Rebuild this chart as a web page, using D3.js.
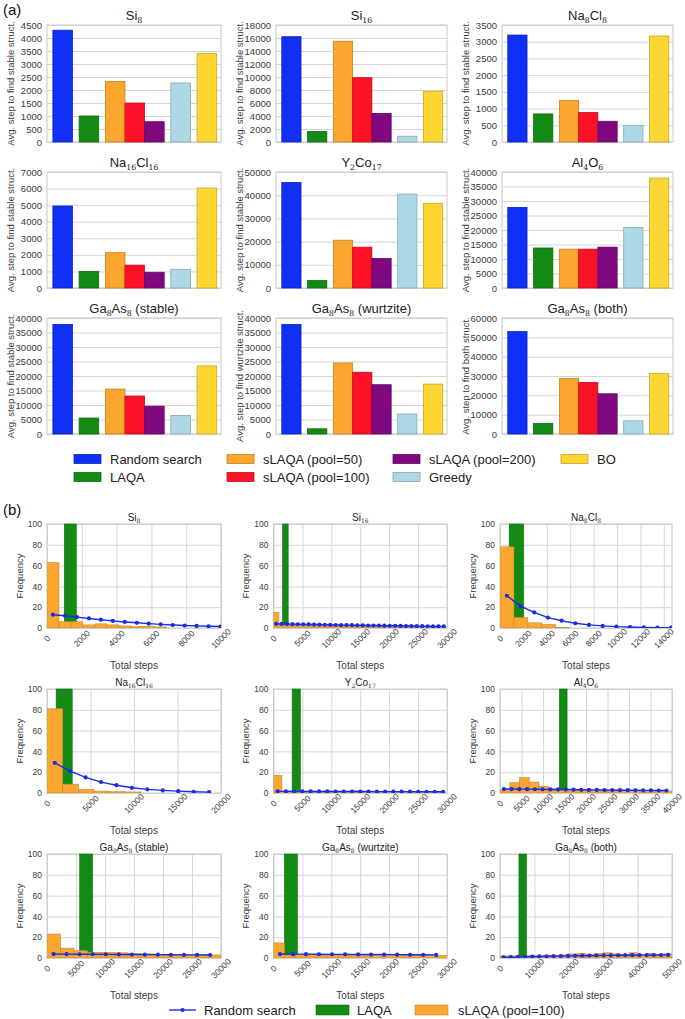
<!DOCTYPE html>
<html><head><meta charset="utf-8">
<script src="https://cdn.jsdelivr.net/npm/d3@7"></script>
<style>body{margin:0;background:#fff} text{font-family:"Liberation Sans",Arial,sans-serif}</style>
</head><body><svg id="c" width="685" height="1019"></svg>
<script>
// ---------------- (a) data ----------------
const methods = ["Random search","LAQA","sLAQA (pool=50)","sLAQA (pool=100)","sLAQA (pool=200)","Greedy","BO"];
const methodGroup = [0,1,2,2,2,3,4];
const methodColors = ["#1030f5","#138a13","#fba62f","#fc1226","#80087f","#add8e6","#fed631"];
const titlesA = ["Si_8","Si_16","Na_8Cl_8","Na_16Cl_16","Y_2Co_17","Al_4O_6","Ga_8As_8 (stable)","Ga_8As_8 (wurtzite)","Ga_8As_8 (both)"];
const avgSi8 = [4300,1000,2330,1500,780,2270,3400];
const avgSi16 = [16200,1600,15500,9900,4400,900,7800];
const avgNa8Cl8 = [3200,840,1240,880,620,500,3170];
const avgNa16Cl16 = [4950,1000,2130,1380,950,1130,6030];
const avgY2Co17 = [45500,3200,20600,17600,12700,40500,36400];
const avgAl4O6 = [27800,13800,13400,13400,14100,20900,37900];
const avgGaStable = [37800,5500,15500,13100,9600,6400,23500];
const avgGaWurtz = [37800,1800,24500,21300,17000,6900,17200];
const avgGaBoth = [53000,5500,28800,26700,20800,6800,31400];
const yMaxA = [4500,18000,3500,7000,50000,40000,40000,40000,60000];
const yStepA = [500,2000,500,1000,10000,5000,5000,5000,10000];
const yLabelA = ["Avg. step to find stable struct.","Avg. step to find stable struct.","Avg. step to find stable struct.",
  "Avg. step to find stable struct.","Avg. step to find stable struct.","Avg. step to find stable struct.",
  "Avg. step to find stable struct.","Avg. step to find wurtzite struct.","Avg. step to find both struct."];

// ---------------- (b) data ----------------
const titlesB = titlesA;
const xMaxB = [10000,30000,14700,20000,30000,40000,30000,30000,50000];
const xStepB = [2000,5000,2000,5000,5000,5000,5000,5000,10000];
const orangeBinB = [688,935,1190,1800,1450,2265,2330,1875,2500];
const randomBinB = [688,935,1170,1775,1430,1800,2250,2250,2080];
const oSi8 = [63,6,6,3,4,3,2,1.5,1.5,1];
const oSi16 = [15,3,3,3,3,3,3,3,2.5,3,2.5,3,2.5,2.5,2.5,2,2.5,2,2,2,2,2,1.5,2,1.5,1.5,1.5,1,1,1,1];
const oNa8Cl8 = [78,10,5,3.5,0.5];
const oNa16Cl16 = [81,8.5,3.5,1.8,1.2,1];
const oY2Co17 = [17,2,2,1.5,2,1.5,2,1.5,1.5,2,1.5,1.5,1.5,1.5,1,1.5,1.5,1,1,1.5];
const oAl4O6 = [3,10,15,10.5,6.5,4,3,3,3,2.5,3,2.5,2.5,2.5,2,2.5,2,2];
const oGaStable = [23,9.5,7,5.5,5.5,5,4.5,4,3.5,3.5,3,3,3];
const oGaWurtz = [14.5,3,3,3,3,3,3,3,3,3,2.5,2.5,2.5,2.5,2.5,2.5];
const oGaBoth = [2,2,1,2,2,2.5,2.5,3,4,4.5,3.5,4.5,5,4,3.5,5,3.5,4.5,3,4];
const greenB = [[994,1683],[1563,2538],[784,2017],[1050,2900],[3220,4650],[13800,15600],[5625,7875],[1875,4125],[5500,7700]];
const rSi8 = [12.8,11.8,10.5,9.2,8.0,6.8,5.8,5.0,4.2,3.5,2.9,2.4,2.0,1.7,1.4];
const rSi16 = [4.0,3.9,3.8,3.7,3.6,3.5,3.4,3.3,3.2,3.1,3.0,2.9,2.8,2.8,2.7,2.6,2.5,2.4,2.4,2.3,2.2,2.1,2.1,2.0,1.9,1.9,1.8,1.8,1.7,1.6,1.6,1.5];
const rNa8Cl8 = [31,21,15,10,7,4.5,3,2,1.3,0.9,0.6,0.4,0.3];
const rNa16Cl16 = [29,21,15,10.5,7.5,5,3.5,2.5,1.8,1.2,0.8];
const rY2Co17 = [1.6,1.6,1.5,1.5,1.5,1.5,1.5,1.4,1.4,1.4,1.4,1.4,1.3,1.3,1.3,1.3,1.3,1.2,1.2,1.2,1.2];
const rAl4O6 = [3.8,3.8,3.7,3.7,3.6,3.5,3.4,3.4,3.3,3.2,3.1,3.0,3.0,2.9,2.8,2.7,2.7,2.6,2.5,2.5,2.4,2.4];
const rGaStable = [3.8,3.7,3.6,3.6,3.5,3.4,3.3,3.2,3.2,3.1,3.0,3.0,2.9];
const rGaWurtz = [3.8,3.7,3.7,3.6,3.5,3.5,3.4,3.3,3.3,3.2,3.1,3.1,3.0];
const rGaBoth = [0.6,0.8,1.0,1.2,1.4,1.5,1.7,1.8,1.9,2.0,2.1,2.2,2.3,2.4,2.5,2.5,2.6,2.7,2.7,2.8,2.8,2.9,2.9,3.0];
const legendB = ["Random search","LAQA","sLAQA (pool=100)"];

// ---------------- assemble ----------------
const avgA = [avgSi8,avgSi16,avgNa8Cl8,avgNa16Cl16,avgY2Co17,avgAl4O6,avgGaStable,avgGaWurtz,avgGaBoth];
const orangeB = [oSi8,oSi16,oNa8Cl8,oNa16Cl16,oY2Co17,oAl4O6,oGaStable,oGaWurtz,oGaBoth];
const randomB = [rSi8,rSi16,rNa8Cl8,rNa16Cl16,rY2Co17,rAl4O6,rGaStable,rGaWurtz,rGaBoth];

const svg = d3.select("#c");
svg.append("rect").attr("width",685).attr("height",1019).attr("fill","#fff");
const TXT = "#3a3a3a", GRID = "#d6d6d6", EDGE = "#c8c8c8";

function formula(g, str, x, y, size, anchor){
  const t = g.append("text").attr("x",x).attr("y",y).attr("text-anchor",anchor||"middle")
    .attr("font-size",size).attr("fill","#222");
  const parts = str.split(/_(\d+)/);
  let shift = 0;
  parts.forEach((p,i)=>{
    if(!p) return;
    if(i%2===1){
      const d = size*0.22;
      t.append("tspan").attr("font-family","DejaVu Serif, serif").attr("font-size",size*0.6).attr("dy",d-shift).text(p);
      shift = d;
    } else {
      t.append("tspan").attr("dy",-shift).text(p);
      shift = 0;
    }
  });
  return t;
}

svg.append("text").attr("x",3).attr("y",15).attr("font-size",15).attr("fill","#111").text("(a)");
svg.append("text").attr("x",3).attr("y",515).attr("font-size",15).attr("fill","#111").text("(b)");

// ---------------- panel (a) ----------------
const aCols = [[47,221],[276,447],[502,673]];
const aRows = [[25,142],[172,288],[318,434]];
const gap = 0.34;
avgA.forEach((vals,k)=>{
  const r = Math.floor(k/3), c = k%3;
  const [L,R] = aCols[c], [T,B] = aRows[r];
  const g = svg.append("g");
  const x = d3.scaleLinear().domain([-0.3, 6+gap*4+1+0.22]).range([L,R]);
  const y = d3.scaleLinear().domain([0,yMaxA[k]]).range([B,T]);
  const ticks = d3.range(0, yMaxA[k]+1, yStepA[k]);
  const ax = g.append("g").attr("transform",`translate(${L},0)`)
    .call(d3.axisLeft(y).tickValues(ticks).tickSize(-(R-L)).tickPadding(5).tickFormat(d3.format("d")));
  ax.select(".domain").remove();
  ax.selectAll(".tick line").attr("stroke",GRID).attr("stroke-width",1);
  ax.selectAll(".tick text").attr("font-size",9.5).attr("fill",TXT).attr("font-family","Liberation Sans, Arial, sans-serif");
  g.append("rect").attr("x",L).attr("y",T).attr("width",R-L).attr("height",B-T)
    .attr("fill","none").attr("stroke",EDGE).attr("stroke-width",1);
  g.selectAll(".bar").data(vals).enter().append("rect")
    .attr("x",(v,i)=>x(i+gap*methodGroup[i]))
    .attr("width",(v,i)=>x(i+gap*methodGroup[i]+1)-x(i+gap*methodGroup[i]))
    .attr("y",v=>y(v)).attr("height",v=>y(0)-y(v))
    .attr("fill",(v,i)=>methodColors[i])
    .attr("stroke",(v,i)=>d3.color(methodColors[i]).darker(0.7))
    .attr("stroke-width",0.8);
  formula(g, titlesA[k], (L+R)/2, T-5, 13);
  g.append("text").attr("transform",`translate(${L-37},${(T+B)/2}) rotate(-90)`)
    .attr("text-anchor","middle").attr("dominant-baseline","central")
    .attr("font-size",9.5).attr("fill",TXT).text(yLabelA[k]);
});

// legend (a)
const legPos = [[74,459],[74,477],[227,459],[227,477],[393,459],[393,477],[561,459]];
methods.forEach((m,i)=>{
  const [lx,ly] = legPos[i];
  svg.append("rect").attr("x",lx).attr("y",ly-4.5).attr("width",27).attr("height",9)
    .attr("fill",methodColors[i]).attr("stroke",d3.color(methodColors[i]).darker(0.7)).attr("stroke-width",0.8);
  svg.append("text").attr("x",lx+36).attr("y",ly).attr("dominant-baseline","central")
    .attr("font-size",13).attr("fill","#222").text(m);
});

// ---------------- panel (b) ----------------
const bCols = [[47,221],[273.5,447],[500,672]];
const bRows = [[524,628],[689,793],[854,958]];
const ORANGE = "#fba62f", GREEN = "#138a13", BLUE = "#1a2de6";
orangeB.forEach((ofreq,k)=>{
  const r = Math.floor(k/3), c = k%3;
  const [L,R] = bCols[c], [T,B] = bRows[r];
  const g = svg.append("g");
  const x = d3.scaleLinear().domain([0,xMaxB[k]]).range([L,R]);
  const y = d3.scaleLinear().domain([0,100]).range([B,T]);
  const cid = "clip"+k;
  svg.append("clipPath").attr("id",cid).append("rect").attr("x",L).attr("y",T-1).attr("width",R-L).attr("height",B-T+1);
  const xt = d3.range(0, xMaxB[k]+1, xStepB[k]);
  const gx = g.append("g").attr("transform",`translate(0,${B})`)
    .call(d3.axisBottom(x).tickValues(xt).tickSize(-(B-T)).tickFormat(""));
  gx.select(".domain").remove();
  gx.selectAll(".tick line").attr("stroke",GRID);
  const gy = g.append("g").attr("transform",`translate(${L},0)`)
    .call(d3.axisLeft(y).tickValues([0,20,40,60,80,100]).tickSize(-(R-L)).tickPadding(5));
  gy.select(".domain").remove();
  gy.selectAll(".tick line").attr("stroke",GRID);
  gy.selectAll(".tick text").attr("font-size",8.5).attr("fill",TXT).attr("font-family","Liberation Sans, Arial, sans-serif");
  g.selectAll(".xl").data(xt).enter().append("text")
    .attr("transform",d=>`translate(${x(d)},${B+10.5}) rotate(-45)`)
    .attr("text-anchor","middle").attr("dominant-baseline","central")
    .attr("font-size",8.5).attr("fill",TXT).text(d=>d);
  g.append("rect").attr("x",L).attr("y",T).attr("width",R-L).attr("height",B-T)
    .attr("fill","none").attr("stroke",EDGE);
  const pg = g.append("g").attr("clip-path",`url(#${cid})`);
  const gr = greenB[k];
  pg.append("rect").attr("x",x(gr[0])).attr("width",x(gr[1])-x(gr[0]))
    .attr("y",y(100)).attr("height",y(0)-y(100)).attr("fill",GREEN)
    .attr("stroke",d3.color(GREEN).darker(0.5)).attr("stroke-width",0.6);
  const ow = orangeBinB[k];
  pg.selectAll(".ob").data(ofreq).enter().append("rect")
    .attr("x",(f,i)=>x(i*ow)).attr("width",(f,i)=>x((i+1)*ow)-x(i*ow))
    .attr("y",f=>y(f)).attr("height",f=>y(0)-y(f))
    .attr("fill",ORANGE).attr("stroke","#c98a3a").attr("stroke-width",0.6);
  const rw = randomBinB[k];
  const pts = randomB[k].map((v,i)=>[rw/2+i*rw, v]);
  pg.append("path").datum(pts).attr("fill","none").attr("stroke",BLUE).attr("stroke-width",1.4)
    .attr("d",d3.line().x(d=>x(d[0])).y(d=>y(d[1])));
  pg.selectAll(".pt").data(pts).enter().append("circle")
    .attr("cx",d=>x(d[0])).attr("cy",d=>y(d[1])).attr("r",2.1).attr("fill",BLUE);
  formula(g, titlesB[k], (L+R)/2, T-3, 10);
  g.append("text").attr("transform",`translate(${L-28},${(T+B)/2}) rotate(-90)`)
    .attr("text-anchor","middle").attr("dominant-baseline","central")
    .attr("font-size",9.5).attr("fill",TXT).text("Frequency");
  g.append("text").attr("x",(L+R)/2).attr("y",B+41).attr("text-anchor","middle")
    .attr("font-size",10).attr("fill",TXT).text("Total steps");
});

// legend (b)
const ly = 1010;
svg.append("line").attr("x1",169).attr("x2",196).attr("y1",ly).attr("y2",ly).attr("stroke",BLUE).attr("stroke-width",1.4);
svg.append("circle").attr("cx",182.5).attr("cy",ly).attr("r",2.1).attr("fill",BLUE);
svg.append("text").attr("x",204).attr("y",ly).attr("dominant-baseline","central").attr("font-size",13).attr("fill","#222").text(legendB[0]);
svg.append("rect").attr("x",316).attr("y",ly-5).attr("width",33).attr("height",10).attr("fill",GREEN).attr("stroke",d3.color(GREEN).darker(0.5)).attr("stroke-width",0.6);
svg.append("text").attr("x",357).attr("y",ly).attr("dominant-baseline","central").attr("font-size",13).attr("fill","#222").text(legendB[1]);
svg.append("rect").attr("x",415).attr("y",ly-5).attr("width",33).attr("height",10).attr("fill",ORANGE).attr("stroke","#c98a3a").attr("stroke-width",0.6);
svg.append("text").attr("x",458).attr("y",ly).attr("dominant-baseline","central").attr("font-size",13).attr("fill","#222").text(legendB[2]);
</script>
</body></html>
